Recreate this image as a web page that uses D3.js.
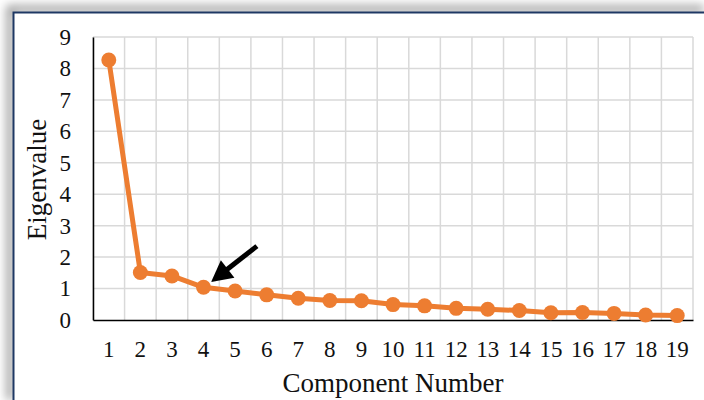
<!DOCTYPE html>
<html>
<head>
<meta charset="utf-8">
<script src="https://cdn.jsdelivr.net/npm/d3@7"></script>
<style>
  body { margin: 0; background: #fff; overflow: hidden; }
  svg { display: block; }
</style>
</head>
<body>
<svg width="704" height="400" font-family="'Liberation Serif', 'DejaVu Serif', serif"></svg>
<script>
const components = ['1','2','3','4','5','6','7','8','9','10','11','12','13','14','15','16','17','18','19'];
const eigenvalues = [8.27, 1.51, 1.40, 1.04, 0.92, 0.80, 0.69, 0.62, 0.61, 0.49, 0.45, 0.37, 0.34, 0.30, 0.23, 0.24, 0.21, 0.16, 0.14];
const yTicks = [0,1,2,3,4,5,6,7,8,9];
// arrow pointing at the elbow (component 4), in data units: [component, value]
const arrowFrom = [5.69, 2.35];
const arrowTo = [4.24, 1.21];

const svg = d3.select('svg');
const width = +svg.attr('width');
const height = +svg.attr('height');
const margin = { top: 37, right: 11, bottom: 80, left: 93 };
const innerWidth = width - margin.left - margin.right;
const innerHeight = height - margin.top - margin.bottom;

// frame: grey shadow band on top/left, navy border line
const defs = svg.append('defs');
const blur = defs.append('filter').attr('id', 'blur')
    .attr('x', '-10%').attr('y', '-10%').attr('width', '120%').attr('height', '120%');
blur.append('feGaussianBlur').attr('stdDeviation', 5);

svg.append('path')
    .attr('d', `M10,${height} V9 H${width}`)
    .attr('fill', 'none')
    .attr('stroke', '#000')
    .attr('stroke-opacity', 0.35)
    .attr('stroke-width', 8)
    .attr('filter', 'url(#blur)');

svg.append('rect')
    .attr('x', 14).attr('y', 13)
    .attr('width', width - 14).attr('height', height - 13)
    .attr('fill', '#fff');

svg.append('path')
    .attr('d', `M13.5,${height} V12.5 H${width}`)
    .attr('fill', 'none')
    .attr('stroke', '#1f3864')
    .attr('stroke-width', 2);

const g = svg.append('g')
    .attr('transform', `translate(${margin.left},${margin.top})`);

const xScale = d3.scaleBand()
    .domain(components)
    .range([0, innerWidth]);

const yScale = d3.scaleLinear()
    .domain([0, 9])
    .range([innerHeight, 0]);

// continuous x for the arrow (component number -> px)
const xNum = v => xScale.step() * (v - 1) + xScale.bandwidth() / 2;

// gridlines
g.append('g')
    .selectAll('line').data(yTicks.slice(1)).enter().append('line')
    .attr('x1', 0).attr('x2', innerWidth)
    .attr('y1', d => yScale(d)).attr('y2', d => yScale(d))
    .attr('stroke', '#d9d9d9').attr('stroke-width', 1.5);

g.append('g')
    .selectAll('line').data(components.concat(['end'])).enter().append('line')
    .attr('x1', (d, i) => i * xScale.step()).attr('x2', (d, i) => i * xScale.step())
    .attr('y1', 0).attr('y2', innerHeight)
    .attr('stroke', '#d9d9d9').attr('stroke-width', 1.5);

// axes
const yAxis = g.append('g')
    .call(d3.axisLeft(yScale).tickValues(yTicks).tickSize(0).tickPadding(22).tickFormat(d3.format('d')))
    .attr('font-size', 23)
    .attr('font-family', '"Liberation Serif", serif');
yAxis.select('.domain').attr('stroke', '#000').attr('stroke-width', 1.5);
yAxis.selectAll('text').attr('fill', '#111');

const xAxis = g.append('g')
    .attr('transform', `translate(0,${innerHeight})`)
    .call(d3.axisBottom(xScale).tickSize(0).tickPadding(21))
    .attr('font-size', 23)
    .attr('font-family', '"Liberation Serif", serif');
xAxis.select('.domain').attr('stroke', '#000').attr('stroke-width', 1.5);
xAxis.selectAll('text').attr('fill', '#111');

// line + markers
const line = d3.line()
    .x((d, i) => xScale(components[i]) + xScale.bandwidth() / 2)
    .y(d => yScale(d));

g.append('path')
    .datum(eigenvalues)
    .attr('d', line)
    .attr('fill', 'none')
    .attr('stroke', '#ed7d31')
    .attr('stroke-width', 5)
    .attr('stroke-linejoin', 'round');

g.selectAll('circle').data(eigenvalues).enter().append('circle')
    .attr('cx', (d, i) => xScale(components[i]) + xScale.bandwidth() / 2)
    .attr('cy', d => yScale(d))
    .attr('r', 7.5)
    .attr('fill', '#ed7d31');

// arrow: shaft + filled head, tip at arrowTo
const x0 = xNum(arrowFrom[0]), y0 = yScale(arrowFrom[1]);
const x1 = xNum(arrowTo[0]), y1 = yScale(arrowTo[1]);
const ang = Math.atan2(y1 - y0, x1 - x0);
const headLen = 21, headHalf = 11;
const bx = x1 - headLen * Math.cos(ang), by = y1 - headLen * Math.sin(ang);
g.append('line')
    .attr('x1', x0).attr('y1', y0)
    .attr('x2', bx + 2 * Math.cos(ang)).attr('y2', by + 2 * Math.sin(ang))
    .attr('stroke', '#000').attr('stroke-width', 5);
g.append('path')
    .attr('d', `M${x1},${y1}L${bx - headHalf * Math.sin(ang)},${by + headHalf * Math.cos(ang)}L${bx + headHalf * Math.sin(ang)},${by - headHalf * Math.cos(ang)}Z`)
    .attr('fill', '#000');

// axis titles
svg.append('text')
    .attr('transform', `translate(46,${margin.top + innerHeight / 2 + 1}) rotate(-90)`)
    .attr('text-anchor', 'middle')
    .attr('font-size', 27)
    .attr('fill', '#111')
    .text('Eigenvalue');

svg.append('text')
    .attr('x', margin.left + innerWidth / 2)
    .attr('y', 392)
    .attr('text-anchor', 'middle')
    .attr('font-size', 27)
    .attr('fill', '#111')
    .text('Component Number');
</script>
</body>
</html>
